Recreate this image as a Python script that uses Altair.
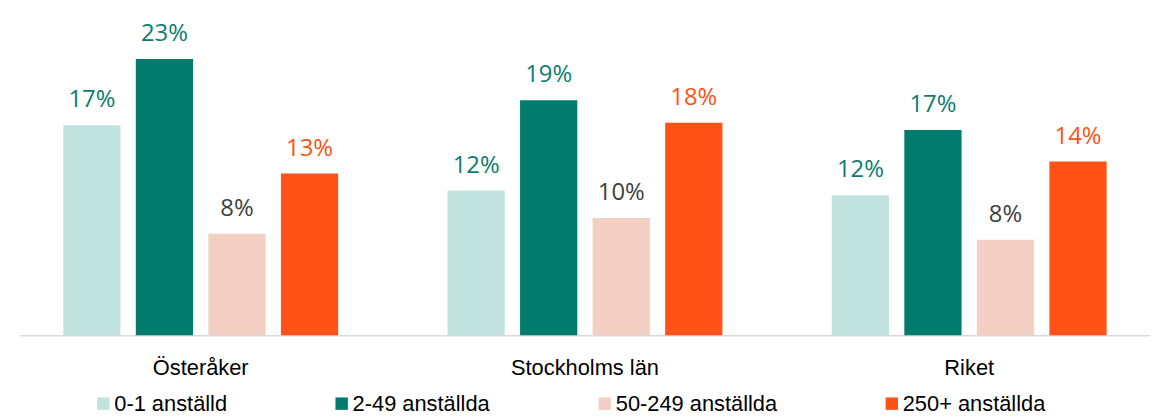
import altair as alt
import pandas as pd

regions = ["Österåker", "Stockholms län", "Riket"]
series = ["0-1 anställd", "2-49 anställda", "50-249 anställda", "250+ anställda"]
v_01 = [0.174, 0.120, 0.116]
v_249 = [0.229, 0.1948, 0.170]
v_50249 = [0.084, 0.097, 0.079]
v_250 = [0.134, 0.176, 0.144]

bar_colors = ["#C2E4E0", "#007B6E", "#F4CFC3", "#FF5216"]
label_colors = ["#0B7D70", "#0B7D70", "#404040", "#FF5216"]

rows = []
for s, vals in zip(series, [v_01, v_249, v_50249, v_250]):
    for r, v in zip(regions, vals):
        rows.append({"region": r, "series": s, "value": v})
df = pd.DataFrame(rows)

x_enc = alt.X(
    "region:N",
    sort=regions,
    scale=alt.Scale(paddingInner=0.245, paddingOuter=0.093),
    axis=alt.Axis(
        title=None,
        labelAngle=0,
        ticks=False,
        labelPadding=23,
        labelFont="Liberation Sans",
        labelFontSize=22,
        labelColor="#000000",
        domainColor="#D9D9D9",
        domainWidth=1.5,
    ),
)
xo_enc = alt.XOffset("series:N", sort=series,
                     scale=alt.Scale(paddingInner=0.211, paddingOuter=0.105))
y_enc = alt.Y("value:Q", scale=alt.Scale(domain=[0, 0.27], nice=False, zero=True),
              axis=None)

base = alt.Chart(df)

bars = base.mark_bar().encode(
    x=x_enc,
    xOffset=xo_enc,
    y=y_enc,
    color=alt.Color(
        "series:N",
        sort=series,
        scale=alt.Scale(domain=series, range=bar_colors),
        legend=alt.Legend(
            title=None,
            orient="none",
            legendX=73,
            legendY=386,
            direction="horizontal",
            columns=4,
            columnPadding=104,
            symbolType="square",
            symbolSize=156,
            symbolStrokeWidth=0,
            labelFont="Liberation Sans",
            labelFontSize=22,
            labelColor="#000000",
            labelOffset=0,
            labelLimit=400,
        ),
    ),
)

labels = base.mark_text(
    baseline="alphabetic", dy=-18, font="Open Sans", fontSize=24
).encode(
    x=x_enc,
    xOffset=xo_enc,
    y=y_enc,
    text=alt.Text("value:Q", format=".0%"),
    color=alt.Color("series:N", sort=series,
                    scale=alt.Scale(domain=series, range=label_colors), legend=None),
)

chart = (
    alt.layer(bars, labels)
    .resolve_scale(color="independent")
    .properties(
        width=1138,
        height=328,
        padding={"left": 12, "top": 0, "right": 0, "bottom": 81},
        autosize=alt.AutoSizeParams(type="none"),
    )
    .configure_view(stroke=None)
)

chart.save("out.html", embed_options={"renderer": "svg", "actions": False})
